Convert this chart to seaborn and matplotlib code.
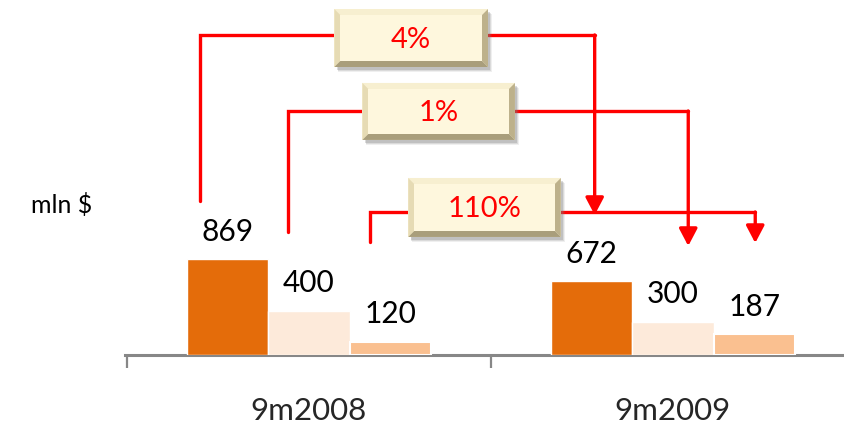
import numpy as np
import pandas as pd
import seaborn as sns
import matplotlib.pyplot as plt
from matplotlib.patches import Polygon, Rectangle, ArrowStyle

# ---- data -------------------------------------------------------------
categories = ["9m2008", "9m2009"]
series_names = ["Series 1", "Series 2", "Series 3"]
values_s1 = [869, 672]
values_s2 = [400, 300]
values_s3 = [120, 187]
series_colors = ["#E46C0A", "#FDEADA", "#FAC090"]
change_labels = ["4%", "1%", "110%"]
unit_label = "mln $"

# ---- figure / axes ----------------------------------------------------
W, H, DPI = 845, 424, 100
sns.set_theme(style="white")
plt.rcParams["font.family"] = ["Lato", "DejaVu Sans"]

fig = plt.figure(figsize=(W / DPI, H / DPI), dpi=DPI)
fig.patch.set_facecolor("white")
AX_L, AX_B, AX_W, AX_H = 125, 69, 730, 355          # axes box in pixels
ax = fig.add_axes([AX_L / W, AX_B / H, AX_W / W, AX_H / H])
ax.set_facecolor("none")

YMAX = 3227
df = pd.DataFrame({
    "period": categories * 3,
    "series": np.repeat(series_names, len(categories)),
    "value": values_s1 + values_s2 + values_s3,
})
sns.barplot(data=df, x="period", y="value", hue="series",
            palette=series_colors, saturation=1, width=0.67, gap=0,
            errorbar=None, legend=False, ax=ax, zorder=2)
ax.set_xlim(-0.505, 1.495)
ax.set_ylim(0, YMAX)

# light outline on the third series
for bar in ax.containers[2]:
    bar.set_edgecolor("white")
    bar.set_linewidth(1.5)

# value labels above each bar
all_values = [values_s1, values_s2, values_s3]
for cont, vals in zip(ax.containers, all_values):
    for bar, v in zip(cont, vals):
        ax.text(bar.get_x() + bar.get_width() / 2, v + 250, f"{v}",
                ha="center", va="center", fontsize=21.5, color="black")

# axis styling
for s in ("top", "right", "left"):
    ax.spines[s].set_visible(False)
ax.spines["bottom"].set_color("#878787")
ax.spines["bottom"].set_linewidth(2.2)
ax.spines["bottom"].set_zorder(1)
ax.set_yticks([])
ax.set_xticks([-0.5, 0.5, 1.5])
ax.set_xticklabels([])
ax.tick_params(axis="x", which="major", bottom=True, length=9.5, width=1.6,
               color="#878787", direction="out")
ax.set_xticks([0, 1], minor=True)
ax.set_xticklabels(categories, minor=True, fontsize=22.5)
ax.tick_params(axis="x", which="minor", bottom=True, length=0, pad=30)
ax.set_xlabel("")
ax.set_ylabel("")

fig.text(62 / W, 1 - 205 / H, unit_label, ha="center", va="center",
         fontsize=18, color="black")

# ---- change callouts --------------------------------------------------
xpp = 2.0 / AX_W        # data units per pixel (x)
ypp = YMAX / AX_H       # data units per pixel (y)

callouts = [
    # start x, start y, level, box x0, box x1, box y0, box y1, end x, tip y
    dict(sx=-0.300, sy=1400, lvl=2909, bx0=0.070, bx1=0.492, by0=2618, by1=3145, ex=0.785, ty=1273),
    dict(sx=-0.056, sy=1118, lvl=2218, bx0=0.147, bx1=0.566, by0=1955, by1=2473, ex=1.042, ty=991),
    dict(sx=0.168, sy=1027, lvl=1300, bx0=0.273, bx1=0.692, by0=1073, by1=1609, ex=1.226, ty=1018),
]

RED = "#FF0000"
LW = 2.4


def bevel_box(x0, x1, y0, y1, z):
    bx, by = 6 * xpp, 6 * ypp
    # soft drop shadow
    for k, a in zip((5, 4, 3), (0.12, 0.18, 0.28)):
        ax.add_patch(Rectangle((x0 + k * xpp * 0.8, y0 - k * ypp),
                               x1 - x0, y1 - y0, facecolor="#7F7F7F",
                               edgecolor="none", alpha=a, zorder=z))
    ax.add_patch(Rectangle((x0, y0), x1 - x0, y1 - y0,
                           facecolor="#FDF5D8", edgecolor="none", zorder=z + 1))
    ix0, ix1, iy0, iy1 = x0 + bx, x1 - bx, y0 + by, y1 - by
    faces = [
        ([(x0, y1), (x1, y1), (ix1, iy1), (ix0, iy1)], "#F7EFD0"),   # top
        ([(x0, y0), (x0, y1), (ix0, iy1), (ix0, iy0)], "#E6DBB4"),   # left
        ([(x1, y0), (x1, y1), (ix1, iy1), (ix1, iy0)], "#BDB18B"),   # right
        ([(x0, y0), (x1, y0), (ix1, iy0), (ix0, iy0)], "#A99E7B"),   # bottom
    ]
    for pts, col in faces:
        ax.add_patch(Polygon(pts, closed=True, facecolor=col,
                             edgecolor="none", zorder=z + 2))
    ax.add_patch(Rectangle((ix0, iy0), ix1 - ix0, iy1 - iy0,
                           facecolor="#FEF7DD", edgecolor="none", zorder=z + 3))


for c, label in zip(callouts, change_labels):
    ax.plot([c["sx"], c["sx"], c["bx0"]], [c["sy"], c["lvl"], c["lvl"]],
            color=RED, lw=LW, solid_joinstyle="miter", zorder=5)
    ax.plot([c["bx1"], c["ex"]], [c["lvl"], c["lvl"]],
            color=RED, lw=LW, zorder=5)
    ax.annotate("", xy=(c["ex"], c["ty"]), xytext=(c["ex"], c["lvl"]),
                arrowprops=dict(arrowstyle=ArrowStyle("-|>", head_length=0.95,
                                                      head_width=0.5),
                                mutation_scale=11, color=RED, lw=LW,
                                shrinkA=0, shrinkB=0),
                zorder=5)

for i, (c, label) in enumerate(zip(callouts, change_labels)):
    z = 10 + i * 10
    bevel_box(c["bx0"], c["bx1"], c["by0"], c["by1"], z)
    ax.text((c["bx0"] + c["bx1"]) / 2, (c["by0"] + c["by1"]) / 2 - 2 * ypp,
            label, ha="center", va="center", fontsize=21, color=RED,
            zorder=z + 5)

fig.savefig("out.png", dpi=DPI, facecolor="white")
